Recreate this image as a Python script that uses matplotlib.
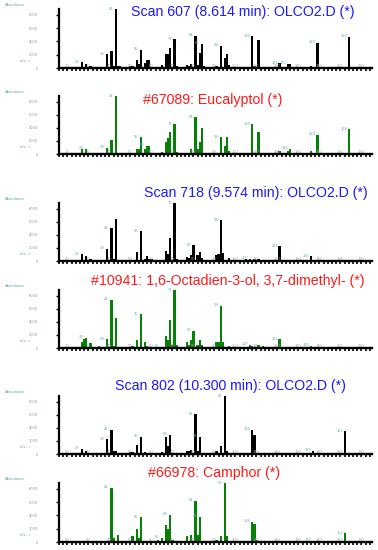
import matplotlib
matplotlib.use("Agg")
import matplotlib.pyplot as plt
from matplotlib.ticker import MultipleLocator

W, H = 378, 550

# scan 607 sample spectrum (8.614 min)
scan607_mz = [27, 29, 31, 33, 39, 41, 42, 43, 44, 45, 50, 51, 53, 54, 55, 57, 58, 59, 65, 67, 68, 69, 71, 72,
              77, 78, 79, 81, 82, 83, 84, 85, 91, 93, 95, 96, 97, 108, 109, 111, 121, 125, 126, 136, 139, 154]
scan607_ab = [890, 620, 270, 180, 2050, 2490, 360, 8900, 360, 270, 270, 270, 1160, 530, 2760, 710, 1160, 1160, 450,
              2050, 2050, 3030, 4360, 360, 450, 270, 530, 4900, 450, 2230, 3650, 270, 360, 3380, 1510, 2050, 450,
              4810, 360, 4180, 710, 620, 620, 360, 3830, 4720]
scan607_lab = [27, 39, 43, 55, 71, 81, 84, 93, 108, 121, 125, 139, 154]

# library hit #67089 eucalyptol
eucal_mz = [27, 29, 39, 41, 43, 50, 53, 54, 55, 57, 58, 59, 65, 67, 68, 69, 71, 72, 77, 79, 81, 82, 83, 84,
            91, 93, 95, 96, 97, 108, 111, 121, 125, 126, 136, 139, 149, 154]
eucal_ab = [800, 800, 980, 2140, 8900, 180, 800, 800, 2580, 800, 1250, 1250, 270, 1780, 2400, 3380, 4540, 270,
            180, 800, 5610, 800, 1780, 3920, 180, 2580, 1250, 2580, 530, 4540, 3380, 450, 450, 800, 450, 2940,
            90, 3830]
eucal_lab = [29, 39, 43, 55, 58, 71, 81, 93, 108, 126, 139, 154]

# scan 718 sample spectrum (9.574 min)
scan718_mz = [27, 29, 31, 33, 39, 41, 42, 43, 45, 53, 55, 57, 58, 59, 60, 65, 67, 68, 69, 71, 72, 77, 78, 79,
              80, 82, 83, 84, 91, 92, 93, 94, 97, 105, 107, 109, 111, 121, 136, 139]
scan718_ab = [1070, 800, 270, 180, 1870, 5070, 360, 6500, 180, 1340, 4540, 360, 800, 360, 270, 180, 1600, 1070,
              3470, 8900, 360, 620, 450, 890, 2400, 890, 1420, 450, 890, 1070, 6230, 1250, 450, 270, 360, 360,
              270, 2230, 710, 180]
scan718_lab = [27, 39, 41, 55, 71, 80, 93, 107, 121, 136]

# library hit #10941 linalool
linal_mz = [27, 28, 29, 31, 35, 39, 41, 42, 43, 51, 53, 55, 57, 58, 60, 65, 67, 68, 69, 70, 71, 72, 77, 78,
            79, 80, 82, 83, 84, 91, 92, 93, 94, 97, 107, 108, 111, 113, 121, 136]
linal_ab = [980, 1340, 1600, 800, 360, 1340, 7390, 270, 4540, 270, 1160, 5160, 890, 270, 180, 180, 1870, 1160,
            4360, 450, 8900, 450, 890, 450, 1250, 2670, 530, 1250, 450, 980, 980, 6500, 980, 360, 530, 270,
            530, 270, 1340, 360]
linal_lab = [29, 39, 41, 55, 65, 71, 80, 93, 107, 121, 136]

# scan 802 sample spectrum (10.300 min)
scan802_mz = [27, 29, 39, 41, 42, 43, 50, 51, 53, 55, 57, 65, 67, 68, 69, 77, 78, 79, 81, 82, 83, 91, 93, 95,
              96, 108, 109, 137, 152]
scan802_ab = [800, 530, 2310, 3740, 530, 530, 270, 360, 1340, 2670, 360, 360, 2670, 1250, 2940, 530, 450, 620,
              6140, 450, 2670, 530, 1250, 8900, 450, 3740, 2940, 530, 3470]
scan802_lab = [27, 39, 41, 55, 69, 81, 83, 95, 108, 137, 152]

# library hit #66978 camphor
camph_mz = [41, 42, 44, 51, 53, 54, 55, 63, 65, 67, 68, 69, 70, 77, 79, 81, 82, 83, 91, 93, 95, 96, 108, 109,
            110, 137, 152]
camph_ab = [8190, 530, 1070, 890, 1960, 530, 3740, 360, 620, 2490, 1960, 4090, 360, 980, 1070, 6230, 1070, 3830,
            360, 980, 8900, 890, 3030, 2760, 270, 180, 1340]
camph_lab = [41, 55, 65, 69, 81, 83, 95, 108, 137, 152]

titles = ["Scan 607 (8.614 min): OLCO2.D (*)",
          "#67089: Eucalyptol (*)",
          "Scan 718 (9.574 min): OLCO2.D (*)",
          "#10941: 1,6-Octadien-3-ol, 3,7-dimethyl- (*)",
          "Scan 802 (10.300 min): OLCO2.D (*)",
          "#66978: Camphor (*)"]
x_ticks = list(range(20, 170, 10))
y_ticks = [0, 2000, 4000, 6000, 8000]

spectra = [(scan607_mz, scan607_ab, scan607_lab), (eucal_mz, eucal_ab, eucal_lab),
           (scan718_mz, scan718_ab, scan718_lab), (linal_mz, linal_ab, linal_lab),
           (scan802_mz, scan802_ab, scan802_lab), (camph_mz, camph_ab, camph_lab)]

# panel geometry in pixels: (axis top, baseline, title x, title y)
panels = [(9, 68, 131, 12), (96, 154, 143, 100), (203, 261, 144, 193),
          (290, 348, 91, 281), (396, 454, 115, 386), (483, 542, 148, 473)]
left, right = 59, 372
teal = "#6aaeb0"

plt.rcParams["font.family"] = ["Liberation Sans", "DejaVu Sans"]
fig = plt.figure(figsize=(W / 100, H / 100), dpi=100)

for i, ((mz, ab, lab), (top, base, tx, ty)) in enumerate(zip(spectra, panels)):
    ax = fig.add_axes([left / W, 1 - base / H, (right - left) / W, (base - top) / H])
    color = "black" if i % 2 == 0 else "#078007"
    ax.bar(mz, ab, width=1.1, color=color, linewidth=0)
    ax.set_xlim(16, 165)
    ax.set_ylim(0, 8900)
    for s in ["top", "right"]:
        ax.spines[s].set_visible(False)
    ax.spines["left"].set_linewidth(1.6)
    ax.spines["bottom"].set_linewidth(1.7)

    ax.set_xticks(x_ticks)
    ax.xaxis.set_minor_locator(MultipleLocator(2))
    ax.tick_params(axis="x", which="both", direction="out", length=2.5, width=1.2, color="black")
    ax.tick_params(axis="x", which="major", pad=-5.6, labelsize=3, labelcolor="#9aa6a6")
    ax.set_yticks(y_ticks)
    ax.tick_params(axis="y", direction="out", length=2, width=1, pad=13, labelsize=3, labelcolor="#8aa0a0")

    abund = dict(zip(mz, ab))
    for m in lab:
        ax.annotate(str(m), (m, abund.get(m, 0)), xytext=(-3.5, 0.3), textcoords="offset points",
                    ha="center", va="center", fontsize=3, color=teal)

    fig.text(tx / W, 1 - ty / H, titles[i], fontsize=10.2, va="center", ha="left",
             color="#1a1aff" if i % 2 == 0 else "#ff1a1a")
    fig.text(5 / W, 1 - (top - 4) / H, "Abundance", fontsize=3, color=teal, va="center")
    fig.text(20 / W, 1 - (base - 7) / H, "m/z-->", fontsize=3, color=teal, va="center")

fig.savefig("out.png", dpi=100)
